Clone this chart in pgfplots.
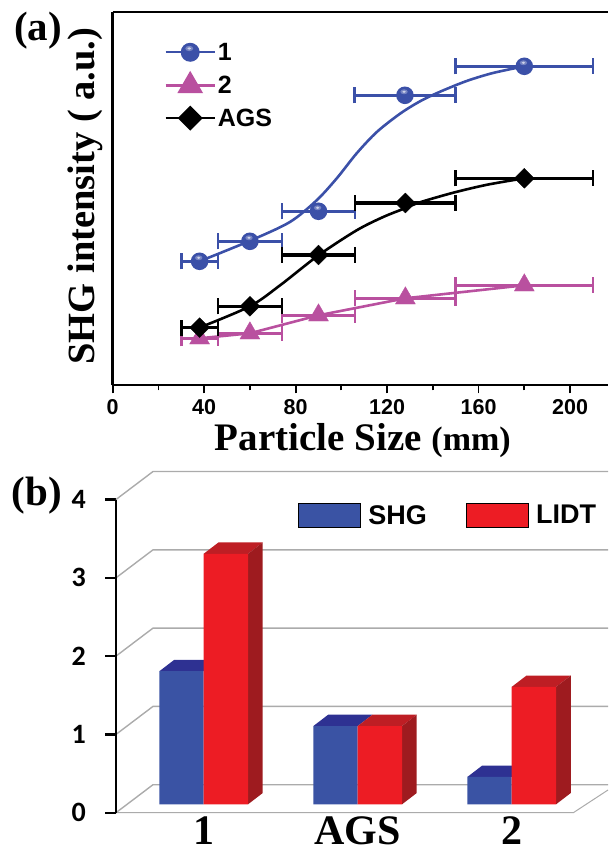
\documentclass[border=0pt]{standalone}
\usepackage{pgfplots}
\pgfplotsset{compat=1.18}
\usepackage{fontspec}
\setmainfont{Liberation Serif}
\newfontfamily\arial{Liberation Sans}
\newfontfamily\carlito{Carlito}
\usetikzlibrary{plotmarks}
\definecolor{cblue}{HTML}{3B50A8}
\definecolor{cmag}{HTML}{B9509F}
\definecolor{bfront}{HTML}{3A53A4}
\definecolor{btop}{HTML}{2E3192}
\definecolor{rfront}{HTML}{ED1C24}
\definecolor{rtop}{HTML}{BE1E24}
\definecolor{rside}{HTML}{9E1B1F}
\definecolor{wall}{HTML}{ABABAB}
\pgfdeclareplotmark{gball}{%
  \pgfsetfillcolor{cblue}%
  \pgfpathcircle{\pgfpointorigin}{\pgfplotmarksize}\pgfusepathqfill
  \pgfsetfillcolor{cblue!70!white}%
  \pgfpathellipse{\pgfpoint{-0.1\pgfplotmarksize}{0.4\pgfplotmarksize}}{\pgfpoint{0.42\pgfplotmarksize}{0pt}}{\pgfpoint{0pt}{0.28\pgfplotmarksize}}\pgfusepathqfill
  \pgfsetfillcolor{cblue!25!white}%
  \pgfpathellipse{\pgfpoint{-0.1\pgfplotmarksize}{0.4\pgfplotmarksize}}{\pgfpoint{0.2\pgfplotmarksize}{0pt}}{\pgfpoint{0pt}{0.13\pgfplotmarksize}}\pgfusepathqfill
}
\pgfplotsset{
  errs/.style={error bars/.cd,x dir=both,x explicit,error bar style={line width=2.6pt},error mark options={rotate=90,mark size=8pt,line width=2.6pt}},
  stems/.style={forget plot,line width=3.2pt,unbounded coords=jump,mark=none},
}
\begin{document}
\begin{tikzpicture}[x=1pt,y=1pt]
\useasboundingbox (0,0) rectangle (608,849);
\begin{axis}[
  at={(112.7pt,463.7pt)},anchor=south west,
  scale only axis,width=495.3pt,height=373.3pt,
  xmin=0,xmax=216.6,ymin=0,ymax=373.3,
  axis x line=bottom,axis y line=left,
  x axis line style={-,line width=2.4pt},
  y axis line style={-,line width=2.8pt},
  clip=false,
  xtick={0,40,80,120,160,200},minor x tick num=1,ytick=\empty,
  tick align=outside,
  major tick length=8pt,minor tick length=5pt,
  every tick/.style={black,line width=1.8pt},
  /pgf/number format/assume math mode=true,
  x tick label style={font=\arial\bfseries\fontsize{21.5}{23}\selectfont,yshift=-3pt},
  xlabel={\bfseries\fontsize{39}{40}\selectfont Particle Size \fontsize{34}{40}\selectfont(mm)},
  every axis x label/.style={at={(axis description cs:0.505,-0.147)},anchor=center},
  ylabel={SHG intensity ( a.u.)},
  every axis y label/.style={at={(axis description cs:-0.056,0.507)},rotate=90,anchor=center,font=\bfseries\fontsize{38.5}{40}\selectfont},
  legend style={at={(axis description cs:0.1043,0.923)},anchor=north west,draw=none,fill=none,inner sep=0pt,row sep=9.5pt,
    font=\arial\bfseries\fontsize{25}{27}\selectfont},
  legend cell align=left,
  legend image code/.code={\draw[#1,mark repeat=2,mark phase=2] plot coordinates {(0pt,0pt)(24.5pt,0pt)(49pt,0pt)};},
]
\addlegendimage{cblue,line width=2.3pt,mark=gball,mark size=9.5pt}
\addlegendentry{1}
\addlegendimage{cmag,line width=2.3pt,mark=triangle*,mark size=12.5pt,mark options={fill=cmag,draw=none}}
\addlegendentry{2}
\addlegendimage{black,line width=2.3pt,mark=square*,mark size=7.7pt,mark options={rotate=45,fill=black,draw=none}}
\addlegendentry{AGS}
% top frame line
\addplot[forget plot,black,line width=2.8pt] coordinates {(0,373.3)(216.6,373.3)};
% series 1 curve
\addplot[forget plot,cblue,line width=2.6pt,smooth,tension=0.5] coordinates {
(38,124)(60,144.5)(77.5,163.3)(89.2,185)(98,207)(106.7,232)(115.5,253.3)(125.6,271.5)(134.4,284)(143.1,293.5)(154.8,304.3)(166.3,312.3)(180,319)};
% series 1 error stems, marks and caps
\addplot[cblue,stems] coordinates {(30,124)(46,124)(nan,nan)(46,144)(74,144)(nan,nan)(74,174)(106,174)(nan,nan)(105.8,290)(149.8,290)(nan,nan)(150,319)(210,319)};
\addplot[forget plot,cblue,only marks,mark=gball,mark size=8.8pt,
  errs] coordinates {
(38,124) +- (8,0)
(60,144) +- (14,0)
(90,174) +- (16,0)
(127.8,290) +- (22,0)
(180,319) +- (30,0)};
% series 2
\addplot[forget plot,cmag,line width=2.6pt] coordinates {(38,47)(60,52)(90,70)(128,87)(180,100)};
\addplot[cmag,stems] coordinates {(30,47)(46,47)(nan,nan)(46,52)(74,52)(nan,nan)(74,70)(106,70)(nan,nan)(106,87)(150,87)(nan,nan)(150,100)(210,100)};
\addplot[forget plot,cmag,only marks,mark=triangle*,mark size=11.5pt,mark options={fill=cmag,draw=none},
  errs] coordinates {
(38,47) +- (8,0)
(60,52) +- (14,0)
(90,70) +- (16,0)
(128,87) +- (22,0)
(180,100) +- (30,0)};
% AGS
\addplot[forget plot,black,line width=2.6pt,smooth,tension=0.5] coordinates {
(38,57.7)(60,79)(73.2,100)(90,130)(106.7,155)(118.3,168.3)(127.8,177)(134.4,183)(148.8,192.5)(163.6,200.5)(180,207)};
\addplot[black,stems] coordinates {(30,57.7)(46,57.7)(nan,nan)(46,79)(74,79)(nan,nan)(74,130.3)(106,130.3)(nan,nan)(106,182.3)(150,182.3)(nan,nan)(150,207)(210,207)};
\addplot[forget plot,black,only marks,mark=square*,mark size=7pt,mark options={rotate=45,fill=black,draw=none},
  errs] coordinates {
(38,57.7) +- (8,0)
(60,79) +- (14,0)
(90,130.3) +- (16,0)
(128,182.3) +- (22,0)
(180,207) +- (30,0)};
\end{axis}
\begin{axis}[
  at={(116pt,36.3pt)},anchor=south west,
  scale only axis,width=492pt,height=344.5pt,
  xmin=-0.5695,xmax=2.625,ymin=0,ymax=4.4,
  axis x line=bottom,axis y line=left,
  x axis line style={draw=none},y axis line style={draw=none},
  clip=false,
  xtick={0,1,2},xticklabels={1,AGS,2},
  ytick={0,1,2,3,4},
  x tick style={draw=none},
  y tick style={black,line width=2.2pt},
  tick align=outside,
  major tick length=10.7pt,
  /pgf/number format/assume math mode=true,
  x tick label style={font=\bfseries\fontsize{42}{43}\selectfont,anchor=base,inner sep=0pt,text depth=0pt,yshift=-21pt},
  y tick label style={font=\carlito\bfseries\fontsize{28}{29}\selectfont,xshift=-16pt},
  legend style={at={(axis description cs:0.3693,0.8999)},anchor=north west,draw=none,fill=none,inner sep=0pt,
    font=\arial\bfseries\fontsize{27}{29}\selectfont,/tikz/every even column/.append style={column sep=37pt}},
  legend columns=2,
  legend image code/.code={\fill[#1] (0pt,-12.3pt) rectangle (62pt,12.3pt);\path (68pt,0pt);},
  facesh/.style={forget plot,draw=none,yshift=8.4pt},
]
\addlegendimage{fill=bfront}
\addlegendentry{SHG}
\addlegendimage{fill=rfront}
\addlegendentry{LIDT}
% back wall and floor
\addplot[forget plot,wall,line width=1.4pt] coordinates {(-0.5695,0)(-0.3292,0.3576)(2.625,0.3576)};
\addplot[forget plot,wall,line width=1.4pt] coordinates {(-0.5695,1)(-0.3292,1.3576)(2.625,1.3576)};
\addplot[forget plot,wall,line width=1.4pt] coordinates {(-0.5695,2)(-0.3292,2.3576)(2.625,2.3576)};
\addplot[forget plot,wall,line width=1.4pt] coordinates {(-0.5695,3)(-0.3292,3.3576)(2.625,3.3576)};
\addplot[forget plot,wall,line width=1.4pt] coordinates {(-0.5695,4)(-0.3292,4.3576)(2.625,4.3576)};
\addplot[forget plot,wall,line width=1pt] coordinates {(-0.5695,0)(2.4,0)(2.625,0.29)};
% y axis line
\addplot[forget plot,black,line width=2.4pt] coordinates {(-0.5695,0)(-0.5695,4)};
% top faces
\addplot[facesh,fill=btop] coordinates {(-0.2877,1.7)(0,1.7)(0.0955,1.844)(-0.1922,1.844)} --cycle;
\addplot[facesh,fill=rtop] coordinates {(0,3.2)(0.2877,3.2)(0.3832,3.344)(0.0955,3.344)} --cycle;
\addplot[facesh,fill=btop] coordinates {(0.7123,1)(1,1)(1.0955,1.144)(0.8078,1.144)} --cycle;
\addplot[facesh,fill=rtop] coordinates {(1,1)(1.2877,1)(1.3832,1.144)(1.0955,1.144)} --cycle;
\addplot[facesh,fill=btop] coordinates {(1.7123,0.35)(2,0.35)(2.0955,0.494)(1.8078,0.494)} --cycle;
\addplot[facesh,fill=rtop] coordinates {(2,1.5)(2.2877,1.5)(2.3832,1.644)(2.0955,1.644)} --cycle;
% side faces
\addplot[facesh,fill=rside] coordinates {(0.2877,0)(0.3832,0.144)(0.3832,3.344)(0.2877,3.2)} --cycle;
\addplot[facesh,fill=rside] coordinates {(1.2877,0)(1.3832,0.144)(1.3832,1.144)(1.2877,1)} --cycle;
\addplot[facesh,fill=rside] coordinates {(2.2877,0)(2.3832,0.144)(2.3832,1.644)(2.2877,1.5)} --cycle;
% front faces
\addplot[ybar,bar width=0.2877,bar shift=-0.14385,fill=bfront,facesh] coordinates {(0,1.7)(1,1)(2,0.35)};
\addplot[ybar,bar width=0.2877,bar shift=0.14385,fill=rfront,facesh] coordinates {(0,3.2)(1,1)(2,1.5)};
\end{axis}
\node[font=\bfseries\fontsize{41}{42}\selectfont,anchor=center] at (38,818) {(a)};
\node[font=\bfseries\fontsize{41}{42}\selectfont,anchor=center] at (37,353) {(b)};
\end{tikzpicture}
\end{document}
